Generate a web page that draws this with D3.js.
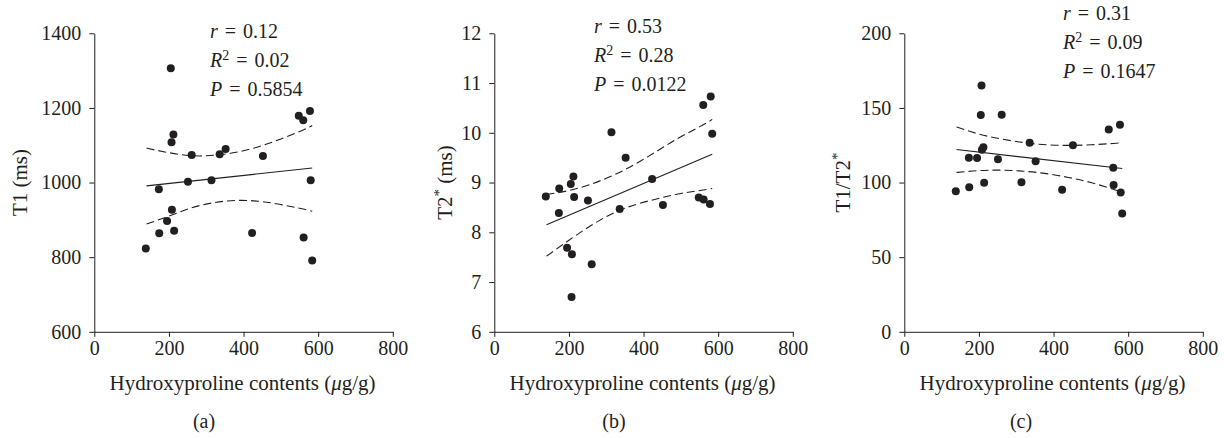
<!DOCTYPE html>
<html>
<head>
<meta charset="utf-8">
<script src="https://cdn.jsdelivr.net/npm/d3@7"></script>
<style>
  html, body { margin: 0; padding: 0; background: #fff; }
  svg { display: block; }
  text { font-family: "Liberation Serif", "Times New Roman", serif; fill: #231f20; }
</style>
</head>
<body>
<svg id="chart" width="1224" height="438"></svg>
<script>
// hydroxyproline contents (ug/g), one per sample
const hyp = [138, 173, 174, 195, 205, 207, 208, 212, 214, 251, 261, 314, 336, 352, 423, 452, 548, 560, 561, 578, 580, 584];
// T1 (ms)
const t1 = [823, 982, 864, 897, 1306, 1108, 927, 1129, 871, 1002, 1074, 1006, 1076, 1090, 865, 1071, 1179, 1167, 853, 1192, 1006, 791];
// T2* (ms)
const t2 = [8.72, 8.39, 8.88, 7.69, 8.97, 6.70, 7.56, 9.12, 8.71, 8.64, 7.36, 10.01, 8.47, 9.50, 9.07, 8.55, 8.70, 10.56, 8.66, 8.57, 10.73, 9.98];
// T1/T2*
const ratio = [94.2, 116.7, 96.9, 116.5, 145.3, 165, 122, 123.7, 99.8, 115.6, 145.5, 100.2, 126.6, 114.3, 95.1, 125, 135.5, 110, 98.4, 138.8, 93.3, 79.2];

// regression fit and 95% band at these x positions
const bandX = [140, 200, 260, 320, 380, 440, 500, 560, 584];
const fitX = [140, 584];
const fitA = [991, 1039];
const upA = [1092, 1080, 1072, 1073, 1081, 1096, 1117, 1141, 1153];
const loA = [889, 910, 932, 946, 952, 950, 941, 929, 923];
const fitB = [8.15, 9.57];
const upB = [8.76, 8.84, 8.97, 9.15, 9.38, 9.65, 9.92, 10.16, 10.27];
const loB = [7.52, 7.84, 8.14, 8.39, 8.56, 8.68, 8.78, 8.85, 8.88];
const fitC = [122.1, 109.4];
const upC = [137.2, 132.5, 129.2, 126.8, 125.3, 124.9, 125.3, 126.2, 126.8];
const loC = [106.8, 108.0, 108.3, 107.6, 106.0, 103.4, 100.0, 95.5, 93.5];

const xTicks = [0, 200, 400, 600, 800];
const yTicksA = [600, 800, 1000, 1200, 1400];
const yTicksB = [6, 7, 8, 9, 10, 11, 12];
const yTicksC = [0, 50, 100, 150, 200];

const stats = [
  { r: "0.12", r2: "0.02", p: "0.5854" },
  { r: "0.53", r2: "0.28", p: "0.0122" },
  { r: "0.31", r2: "0.09", p: "0.1647" }
];

const panels = [
  { left: 94.3, y: t1, fit: fitA, up: upA, lo: loA, ticks: yTicksA, yLab: ["T1 (ms)"], labX: 20, tag: "(a)", tagX: 204, statX: 210, statY: 38 },
  { left: 494.3, y: t2, fit: fitB, up: upB, lo: loB, ticks: yTicksB, yLab: ["T2", "*", " (ms)"], labX: 445, tag: "(b)", tagX: 614, statX: 594, statY: 33 },
  { left: 904.3, y: ratio, fit: fitC, up: upC, lo: loC, ticks: yTicksC, yLab: ["T1/T2", "*"], labX: 843, tag: "(c)", tagX: 1021, statX: 1063, statY: 20 }
];

const svg = d3.select("#chart");
const plotTop = 33.3, size = 298.5;
const ink = "#231f20";

panels.forEach((p, i) => {
  const g = svg.append("g").attr("transform", `translate(${p.left},${plotTop})`);
  const x = d3.scaleLinear().domain([0, 800]).range([0, size]);
  const y = d3.scaleLinear().domain(d3.extent(p.ticks)).range([size, 0]);

  const xa = g.append("g").attr("transform", `translate(0,${size})`)
    .call(d3.axisBottom(x).tickValues(xTicks).tickFormat(d3.format("d"))
      .tickSize(5).tickSizeOuter(0).tickPadding(4));
  const ya = g.append("g")
    .call(d3.axisLeft(y).tickValues(p.ticks).tickFormat(d3.format("d"))
      .tickSize(5).tickSizeOuter(0).tickPadding(8));
  [xa, ya].forEach(a => {
    a.selectAll("path, line").attr("stroke", ink);
    a.selectAll("text").style("font-size", "20px").attr("fill", ink);
  });

  const line = d3.line().x(d => x(d[0])).y(d => y(d[1]));
  const band = d3.line().x(d => x(d[0])).y(d => y(d[1])).curve(d3.curveNatural);

  g.append("path").attr("d", line(d3.zip(fitX, p.fit)))
    .attr("fill", "none").attr("stroke", ink).attr("stroke-width", 1.1);
  [p.up, p.lo].forEach(b => {
    g.append("path").attr("d", band(d3.zip(bandX, b)))
      .attr("fill", "none").attr("stroke", ink).attr("stroke-width", 1.1)
      .attr("stroke-dasharray", "8,4");
  });

  g.selectAll("circle").data(d3.zip(hyp, p.y)).enter().append("circle")
    .attr("cx", d => x(d[0])).attr("cy", d => y(d[1])).attr("r", 4)
    .attr("fill", ink);

  // axis titles
  const xl = svg.append("text").attr("x", p.left + size / 2 - 1).attr("y", 390)
    .attr("text-anchor", "middle").style("font-size", "21px");
  xl.append("tspan").text("Hydroxyproline contents (");
  xl.append("tspan").style("font-style", "italic").text("\u03bc");
  xl.append("tspan").text("g/g)");

  const yl = svg.append("text")
    .attr("transform", `translate(${p.labX},${plotTop + size / 2}) rotate(-90)`)
    .attr("text-anchor", "middle").attr("dy", "0.35em").style("font-size", "21px");
  p.yLab.forEach(s => {
    if (s === "*") yl.append("tspan").attr("baseline-shift", "super").style("font-size", "15px").text(s);
    else yl.append("tspan").attr("baseline-shift", "0").text(s);
  });

  svg.append("text").attr("x", p.tagX).attr("y", 428).attr("text-anchor", "middle")
    .style("font-size", "20px").text(p.tag);

  // stats
  const s = stats[i];
  const st = svg.append("g").attr("transform", `translate(${p.statX},${p.statY})`)
    .style("font-size", "20px").style("word-spacing", "2px");
  const l1 = st.append("text").attr("y", 0);
  l1.append("tspan").style("font-style", "italic").text("r");
  l1.append("tspan").text(" = " + s.r);
  const l2 = st.append("text").attr("y", 29);
  l2.append("tspan").style("font-style", "italic").text("R");
  l2.append("tspan").attr("baseline-shift", "super").style("font-size", "14px").text("2");
  l2.append("tspan").attr("baseline-shift", "0").text(" = " + s.r2);
  const l3 = st.append("text").attr("y", 58);
  l3.append("tspan").style("font-style", "italic").text("P");
  l3.append("tspan").text(" = " + s.p);
});
</script>
</body>
</html>
